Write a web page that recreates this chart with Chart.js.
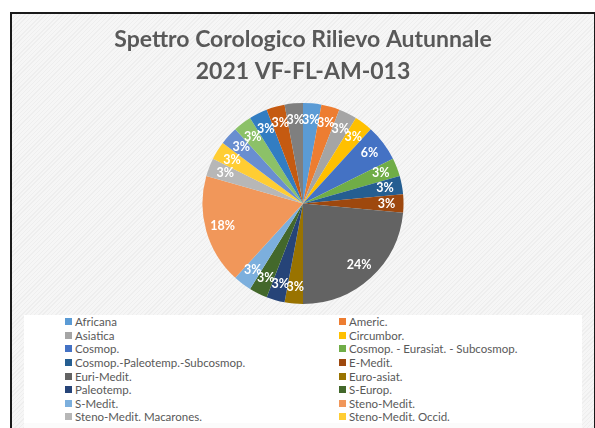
<!DOCTYPE html>
<html>
<head>
<meta charset="utf-8">
<script src="https://cdn.jsdelivr.net/npm/chart.js@4"></script>
<style>
  html, body { margin:0; padding:0; background:#fff; width:595px; height:428px; overflow:hidden; }
  #frame {
    position:absolute; left:10px; top:12px; width:582px; height:420px;
    border:2px solid #1a1a1a; border-bottom:none;
    background: repeating-linear-gradient(135deg, #eeeeee 0 1px, #f6f6f6 1px 3px);
  }
  #chart { position:absolute; left:0; top:0; }
  #legend {
    position:absolute; left:12px; top:301px; width:558px; height:108px;
    background:#fff; overflow:hidden;
    display:grid; grid-template-columns:274px 1fr; grid-auto-rows:13.6px;
    padding-left:41px; box-sizing:border-box;
    font-family:Lato, sans-serif; font-size:11.5px; color:#595959;
  }
  #legendPad {
    position:absolute; left:12px; top:409px; width:558px; height:20px; background:#fbfbfb;
  }
  .item { display:flex; align-items:center; white-space:nowrap; }
  .item i { display:inline-block; width:7px; height:7px; margin-right:3px; }
</style>
</head>
<body>
<div id="frame">
  <canvas id="chart" width="582" height="300"></canvas>
  <div id="legend"></div>
  <div id="legendPad"></div>
</div>
<script>
// titolo e dati (conteggi specie per corotipo)
const TITLE = ['Spettro Corologico Rilievo Autunnale', '2021 VF-FL-AM-013'];

const CATEGORIES = [
  'Africana', 'Americ.', 'Asiatica', 'Circumbor.', 'Cosmop.',
  'Cosmop. - Eurasiat. - Subcosmop.', 'Cosmop.-Paleotemp.-Subcosmop.', 'E-Medit.',
  'Euri-Medit.', 'Euro-asiat.', 'Paleotemp.', 'S-Europ.', 'S-Medit.',
  'Steno-Medit.', 'Steno-Medit. Macarones.', 'Steno-Medit. Occid.',
  'Steno-Medit.-Turan.', 'Subatlant.', 'Subcosmop.', 'Subtrop.', 'W-Medit.'
];

const COUNTS = [1, 1, 1, 1, 2, 1, 1, 1, 8, 1, 1, 1, 1, 6, 1, 1, 1, 1, 1, 1, 1];

const COLORS = [
  '#5B9BD5', '#ED7D31', '#A5A5A5', '#FFC000', '#4472C4',
  '#70AD47', '#255E91', '#9E480E', '#636363', '#997300',
  '#264478', '#43682B', '#7CAFDD', '#F1975A', '#B7B7B7',
  '#FFCD33', '#698ED0', '#8CC168', '#327DC2', '#C55A11', '#7F7F7F'
];

// etichette percentuali dentro le fette
const pctLabels = {
  id: 'pctLabels',
  afterDatasetsDraw(chart){
    const ctx = chart.ctx;
    const ds = chart.data.datasets[0];
    const total = ds.data.reduce((a, b) => a + b, 0);
    ctx.save();
    ctx.font = 'bold 12.5px Lato, sans-serif';
    ctx.fillStyle = '#ffffff';
    ctx.textAlign = 'center';
    ctx.textBaseline = 'middle';
    chart.getDatasetMeta(0).data.forEach((arc, i) => {
      const p = arc.getProps(['x','y','startAngle','endAngle','outerRadius'], true);
      const mid = (p.startAngle + p.endAngle) / 2;
      const r = p.outerRadius * 0.83;
      const txt = Math.round(ds.data[i] / total * 100) + '%';
      ctx.fillText(txt, p.x + Math.cos(mid) * r, p.y + Math.sin(mid) * r);
    });
    ctx.restore();
  }
};

const chart = new Chart(document.getElementById('chart'), {
  type: 'pie',
  data: {
    labels: CATEGORIES,
    datasets: [{
      data: COUNTS,
      backgroundColor: COLORS,
      borderWidth: 0
    }]
  },
  options: {
    responsive: false,
    animation: false,
    layout: { padding: { top: 0, bottom: 10, left: 0, right: 0 } },
    plugins: {
      legend: { display: false },
      tooltip: { enabled: false },
      title: {
        display: true,
        text: TITLE,
        color: '#595959',
        font: { family: 'Lato, sans-serif', size: 23, weight: 'bold', lineHeight: 1.39 },
        padding: { top: 10, bottom: 15 }
      }
    }
  },
  plugins: [pctLabels]
});

// legenda a due colonne (tagliata in basso come nell'originale)
const legendEl = document.getElementById('legend');
chart.options.plugins.legend.labels.generateLabels(chart).forEach(l => {
  const d = document.createElement('div');
  d.className = 'item';
  d.innerHTML = `<i style="background:${l.fillStyle}"></i>${l.text}`;
  legendEl.appendChild(d);
});
</script>
</body>
</html>
